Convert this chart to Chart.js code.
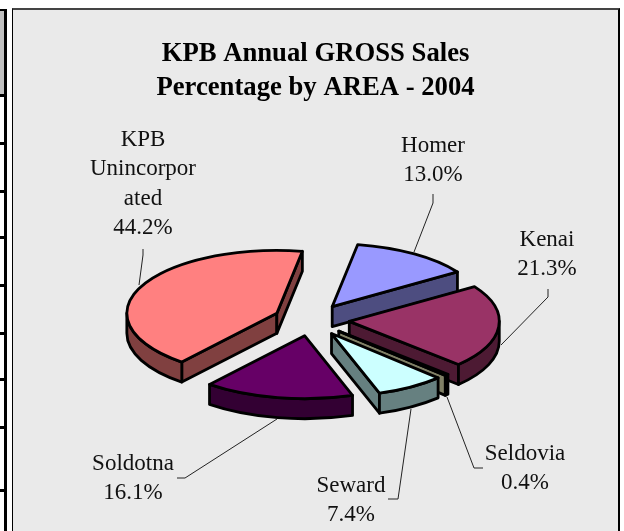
<!DOCTYPE html>
<html>
<head>
<meta charset="utf-8">
<title>KPB Annual GROSS Sales</title>
<script src="https://cdn.jsdelivr.net/npm/chart.js@4"></script>
<style>
  html, body { margin: 0; padding: 0; background: #fff; overflow: hidden; }
  #page { position: relative; width: 624px; height: 531px; overflow: hidden; }
  .cell { position: absolute; left: 0; width: 4px; top: 11px; height: 83px; background: #c0c0c0; }
  .vbar { position: absolute; left: 4px; top: 9px; width: 3px; height: 522px; background: #000; }
  .hbar { position: absolute; left: 0; width: 7px; height: 3px; background: #000; }
  #box { position: absolute; left: 12px; top: 8px; width: 605px; height: 530px; background: #eaeaea;
         border: 1px solid #000; border-top: 2px solid #444; border-right-width: 2px; }
  #chart { position: absolute; left: 13px; top: 10px; }
</style>
</head>
<body>
<div id="page">
  <div class="cell"></div>
  <div class="vbar"></div>
  <div id="box"></div>
  <canvas id="chart" width="605" height="521"></canvas>
</div>
<script>
const titleLines = ['KPB Annual GROSS Sales', 'Percentage by AREA - 2004'];
const categories = ['Homer', 'Kenai', 'Seldovia', 'Seward', 'Soldotna', 'KPB Unincorporated'];
// slice sizes as drawn; the printed KPB figure (44.2%) is larger than its slice, the printed labels add up to 102.4
const sliceShares = [13.0, 21.3, 0.4, 7.4, 16.1, 41.8];
const printedPercents = ['13.0%', '21.3%', '0.4%', '7.4%', '16.1%', '44.2%'];
const labelLines = [['Homer'], ['Kenai'], ['Seldovia'], ['Seward'], ['Soldotna'], ['KPB', 'Unincorpor', 'ated']];
const topColors = ['#9999ff', '#993366', '#ffffcc', '#ccffff', '#660066', '#ff8080'];
const sideColors = ['#4d4d80', '#4d1a33', '#808066', '#668080', '#330033', '#804040'];

// page furniture left of the chart box
const rowLines = [94, 142, 190, 236, 284, 332, 378, 426, 489];
rowLines.forEach(y => {
  const d = document.createElement('div');
  d.className = 'hbar';
  d.style.top = y + 'px';
  document.getElementById('page').appendChild(d);
});
const topRule = document.createElement('div');
topRule.className = 'hbar';
topRule.style.top = '9px';
topRule.style.height = '2px';
document.getElementById('page').appendChild(topRule);

// 3d look of the pie
const canvasLeft = 13, canvasTop = 10;
const pieX = 311.4 - canvasLeft, pieY = 320 - canvasTop;
const pieRadius = 150, squash = 0.42, explode = 38, depth = 20;

// label placement in page pixels: text centre, first baseline, leader line
const labelSpots = [
  { x: 433, y: 152, leader: [[433, 194], [433, 203], [414, 252]] },
  { x: 547, y: 246, leader: [[548, 289], [548, 297], [501, 345]] },
  { x: 525, y: 460, leader: [[447, 397], [474, 468], [483, 468]] },
  { x: 351, y: 492, leader: [[411, 409], [398, 499], [388, 499]] },
  { x: 133, y: 470, leader: [[277, 419], [185, 478], [177, 478]] },
  { x: 143, y: 146, leader: [[143, 249], [143, 255], [139, 285]] }
];

function screenY(arc) {
  return pieY + (arc.y - pieY) * squash;
}

function tracePoint(arc, angle, drop) {
  return [arc.x + Math.cos(angle) * pieRadius, screenY(arc) + Math.sin(angle) * pieRadius * squash + drop];
}

function radialWall(ctx, arc, angle) {
  const y = screenY(arc);
  const p = tracePoint(arc, angle, 0);
  ctx.beginPath();
  ctx.moveTo(arc.x, y);
  ctx.lineTo(p[0], p[1]);
  ctx.lineTo(p[0], p[1] + depth);
  ctx.lineTo(arc.x, y + depth);
  ctx.closePath();
  ctx.fill();
  ctx.stroke();
}

function curvedWall(ctx, arc, from, to) {
  const y = screenY(arc);
  ctx.beginPath();
  ctx.ellipse(arc.x, y, pieRadius, pieRadius * squash, 0, from, to);
  ctx.ellipse(arc.x, y + depth, pieRadius, pieRadius * squash, 0, to, from, true);
  ctx.closePath();
  ctx.fill();
  ctx.stroke();
}

const pie3d = {
  id: 'pie3d',
  afterDatasetsUpdate(chart) {
    chart.getDatasetMeta(0).data.forEach(arc => {
      const mid = (arc.startAngle + arc.endAngle) / 2;
      arc.x = pieX + Math.cos(mid) * explode;
      arc.y = pieY + Math.sin(mid) * explode;
    });
  },
  beforeDatasetsDraw(chart) {
    const ctx = chart.ctx;
    ctx.save();
    ctx.lineWidth = 2.8;
    ctx.lineJoin = 'round';
    ctx.strokeStyle = '#000';
    chart.getDatasetMeta(0).data.forEach((arc, i) => {
      ctx.fillStyle = sideColors[i];
      if (Math.cos(arc.startAngle) < 0) radialWall(ctx, arc, arc.startAngle);
      if (Math.cos(arc.endAngle) > 0) radialWall(ctx, arc, arc.endAngle);
      const from = Math.max(arc.startAngle, 0), to = Math.min(arc.endAngle, Math.PI);
      if (to > from) curvedWall(ctx, arc, from, to);
    });
    ctx.restore();
    // the library's own arcs get flattened into ellipses
    ctx.save();
    ctx.translate(0, pieY);
    ctx.scale(1, squash);
    ctx.translate(0, -pieY);
  },
  afterDatasetsDraw(chart) {
    const ctx = chart.ctx;
    ctx.restore();
    ctx.save();
    ctx.lineWidth = 2.8;
    ctx.lineJoin = 'round';
    ctx.strokeStyle = '#000';
    chart.getDatasetMeta(0).data.forEach(arc => {
      ctx.beginPath();
      ctx.moveTo(arc.x, screenY(arc));
      ctx.ellipse(arc.x, screenY(arc), pieRadius, pieRadius * squash, 0, arc.startAngle, arc.endAngle);
      ctx.closePath();
      ctx.stroke();
    });
    ctx.restore();
  },
  afterDraw(chart) {
    const ctx = chart.ctx;
    ctx.save();
    ctx.translate(-canvasLeft, -canvasTop);
    ctx.font = '23px "Liberation Serif"';
    ctx.textAlign = 'center';
    ctx.textBaseline = 'alphabetic';
    ctx.fillStyle = '#111';
    ctx.strokeStyle = '#222';
    ctx.lineWidth = 1;
    labelSpots.forEach((spot, i) => {
      ctx.beginPath();
      spot.leader.forEach((p, n) => (n ? ctx.lineTo(p[0], p[1]) : ctx.moveTo(p[0], p[1])));
      ctx.stroke();
      labelLines[i].concat(printedPercents[i]).forEach((line, n) => {
        ctx.fillText(line, spot.x, spot.y + n * 29.3);
      });
    });
    ctx.restore();
  }
};

new Chart(document.getElementById('chart').getContext('2d'), {
  type: 'pie',
  data: {
    labels: categories,
    datasets: [{
      data: sliceShares,
      backgroundColor: topColors,
      borderWidth: 0
    }]
  },
  options: {
    responsive: false,
    animation: false,
    rotation: 9.8,
    radius: pieRadius,
    events: [],
    plugins: {
      legend: { display: false },
      tooltip: { enabled: false },
      title: {
        display: true,
        text: titleLines,
        color: '#000',
        font: { family: '"Liberation Serif"', size: 26.7, weight: 'bold', lineHeight: 1.27 },
        padding: { top: 27, bottom: 10 }
      }
    }
  },
  plugins: [pie3d]
});
</script>
</body>
</html>
